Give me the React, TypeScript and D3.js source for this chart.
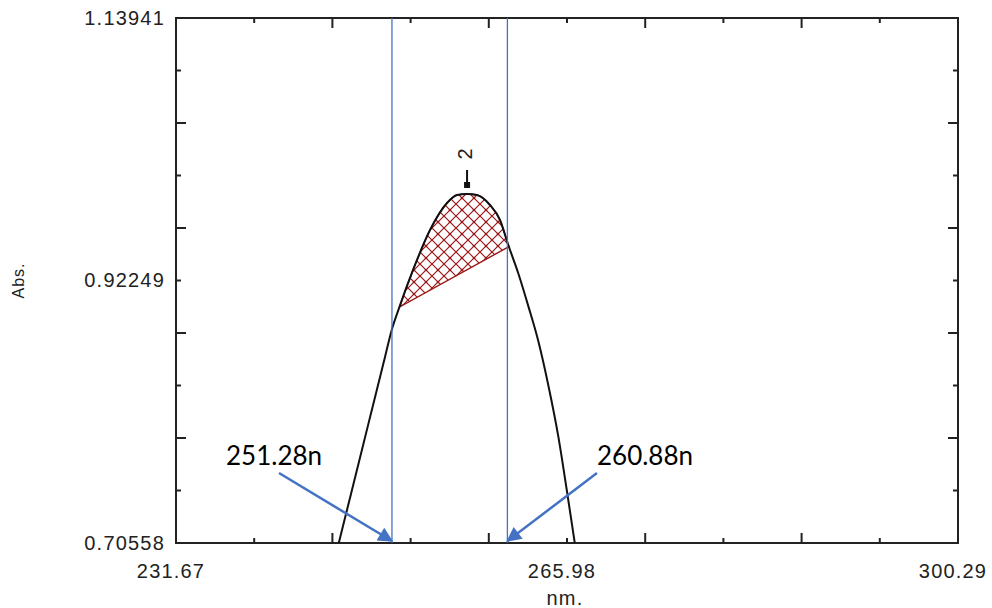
import React from 'react';
import * as d3 from 'd3';

// Spectrum trace (nm, Abs)
const wavelengths = [245.71, 245.91, 246.35, 247.09, 247.82, 248.54, 249.28, 250.01, 250.60, 251.18, 252.47, 253.96, 255.45, 256.33, 257.21, 258.08, 259.22, 260.10, 260.83, 261.71, 262.58, 263.46, 264.34, 265.22, 265.95, 266.68, 266.86];
const absorbance = [0.6963, 0.7039, 0.7206, 0.7486, 0.7763, 0.8036, 0.8316, 0.8593, 0.8816, 0.8980, 0.9312, 0.9642, 0.9865, 0.9931, 0.9940, 0.9931, 0.9849, 0.9725, 0.9518, 0.9283, 0.9015, 0.8725, 0.8360, 0.7935, 0.7500, 0.7045, 0.6930];

const xDomain = [231.67, 300.29];
const yDomain = [0.70558, 1.13941];
const xTickLabels = ['231.67', '265.98', '300.29'];
const yTickLabels = ['0.70558', '0.92249', '1.13941'];

// integrated peak range
const peakRange = [251.28, 260.88];
const peakNumber = '2';
const peakNm = 257.21;

// hand-drawn blue guide lines + callouts
const guideLines = [250.62, 260.75];
const calloutLabels = ['251.28n', '260.88n'];
const calloutFrom = [[240.71, 0.7634], [268.61, 0.7634]];
const calloutTo = [[250.62, 0.7072], [260.75, 0.7072]];

const W = 992;
const H = 608;
const box = { left: 176, top: 18, right: 958, bottom: 543 };
const axisColor = '#222';
const blue = '#4472C4';
const hatch = '#9b1515';

export default function App() {
  const x = d3.scaleLinear().domain(xDomain).range([box.left, box.right]);
  const y = d3.scaleLinear().domain(yDomain).range([box.bottom, box.top]);

  const pts: [number, number][] = wavelengths.map((w, i) => [w, absorbance[i]]);
  const line = d3.line<[number, number]>()
    .x(d => x(d[0]))
    .y(d => y(d[1]))
    .curve(d3.curveMonotoneX);

  const interp = (w: number) => {
    const i = d3.bisector((d: [number, number]) => d[0]).left(pts, w);
    const a = pts[i - 1], b = pts[i];
    const t = (w - a[0]) / (b[0] - a[0]);
    return a[1] + t * (b[1] - a[1]);
  };
  const upper: [number, number][] = [
    [peakRange[0], interp(peakRange[0])],
    ...pts.filter(p => p[0] > peakRange[0] && p[0] < peakRange[1]),
    [peakRange[1], interp(peakRange[1])],
  ];
  const hatchPath = line(upper) + 'Z';

  const xTicks = d3.range(11).map(i => xDomain[0] + (i * (xDomain[1] - xDomain[0])) / 10);
  const yTicks = d3.range(11).map(i => yDomain[0] + (i * (yDomain[1] - yDomain[0])) / 10);
  const tickLen = (i: number) => (i % 2 === 0 ? 10 : 5);

  const peakX = x(peakNm);
  const peakY = y(interp(peakNm));

  const axisFont = { fontFamily: '"Liberation Sans", Arial, sans-serif', fontSize: 20, letterSpacing: 1.2, fill: axisColor };

  return (
    <svg width={W} height={H} style={{ position: 'absolute', left: 0, top: 0, background: '#fff' }}>
      <defs>
        <clipPath id="plot">
          <rect x={box.left} y={box.top} width={box.right - box.left} height={box.bottom - box.top} />
        </clipPath>
        <pattern id="xhatch" patternUnits="userSpaceOnUse" width={12} height={12}>
          <path d="M0,0L12,12M12,0L0,12" stroke={hatch} strokeWidth={1.2} />
          <circle cx={6} cy={6} r={1.3} fill={hatch} />
        </pattern>
        <marker id="arrow" viewBox="0 0 10 10" refX={9} refY={5} markerWidth={7} markerHeight={6} markerUnits="strokeWidth" orient="auto">
          <path d="M0,0L10,5L0,10Z" fill={blue} />
        </marker>
      </defs>

      {/* frame */}
      <rect x={box.left} y={box.top} width={box.right - box.left} height={box.bottom - box.top} fill="none" stroke={axisColor} strokeWidth={2} />

      {/* ticks on all four sides, pointing inward */}
      {xTicks.map((t, i) => (
        <g key={'xt' + i} stroke={axisColor} strokeWidth={2}>
          <line x1={x(t)} x2={x(t)} y1={box.bottom} y2={box.bottom - tickLen(i)} />
          <line x1={x(t)} x2={x(t)} y1={box.top} y2={box.top + tickLen(i)} />
        </g>
      ))}
      {yTicks.map((t, i) => (
        <g key={'yt' + i} stroke={axisColor} strokeWidth={2}>
          <line x1={box.left} x2={box.left + tickLen(i)} y1={y(t)} y2={y(t)} />
          <line x1={box.right} x2={box.right - tickLen(i)} y1={y(t)} y2={y(t)} />
        </g>
      ))}

      {/* tick labels */}
      {xTickLabels.map(l => (
        <text key={l} x={x(+l) - 5} y={573} textAnchor="middle" dominantBaseline="middle" style={axisFont}>{l}</text>
      ))}
      {yTickLabels.map(l => (
        <text key={l} x={box.left - 11} y={y(+l) + 1.5} textAnchor="end" dominantBaseline="middle" style={axisFont}>{l}</text>
      ))}
      <text x={x((xDomain[0] + xDomain[1]) / 2) - 2} y={605} textAnchor="middle" style={axisFont}>nm.</text>
      <text transform={`translate(24,${(box.top + box.bottom) / 2}) rotate(-90)`} textAnchor="middle"
        style={{ ...axisFont, fontSize: 16, letterSpacing: 1 }}>Abs.</text>

      {/* spectrum + integrated peak */}
      <g clipPath="url(#plot)">
        <path d={hatchPath} fill="url(#xhatch)" stroke={hatch} strokeWidth={1.4} />
        <path d={line(pts) || ''} fill="none" stroke="#111" strokeWidth={2} />
      </g>

      {/* peak marker */}
      <line x1={peakX} x2={peakX} y1={peakY - 24} y2={peakY - 6} stroke="#111" strokeWidth={2} />
      <rect x={peakX - 3} y={peakY - 12} width={6} height={6} fill="#111" />
      <text transform={`translate(${peakX + 5},${peakY - 40}) rotate(-90)`} textAnchor="middle"
        style={{ ...axisFont, fontSize: 20, letterSpacing: 0 }}>{peakNumber}</text>

      {/* blue guide lines */}
      {guideLines.map(g => (
        <line key={g} x1={x(g)} x2={x(g)} y1={box.top} y2={box.bottom} stroke={blue} strokeWidth={1.3} />
      ))}

      {/* callouts */}
      {calloutLabels.map((l, i) => (
        <g key={l}>
          <line x1={x(calloutFrom[i][0])} y1={y(calloutFrom[i][1])} x2={x(calloutTo[i][0])} y2={y(calloutTo[i][1])}
            stroke={blue} strokeWidth={2.5} markerEnd="url(#arrow)" />
          <text x={i === 0 ? x(calloutFrom[i][0]) - 53 : x(calloutFrom[i][0])} y={y(calloutFrom[i][1]) - 8}
            style={{ fontFamily: 'Lato, "Open Sans", sans-serif', fontSize: 26, fill: '#000' }}>{l}</text>
        </g>
      ))}
    </svg>
  );
}
